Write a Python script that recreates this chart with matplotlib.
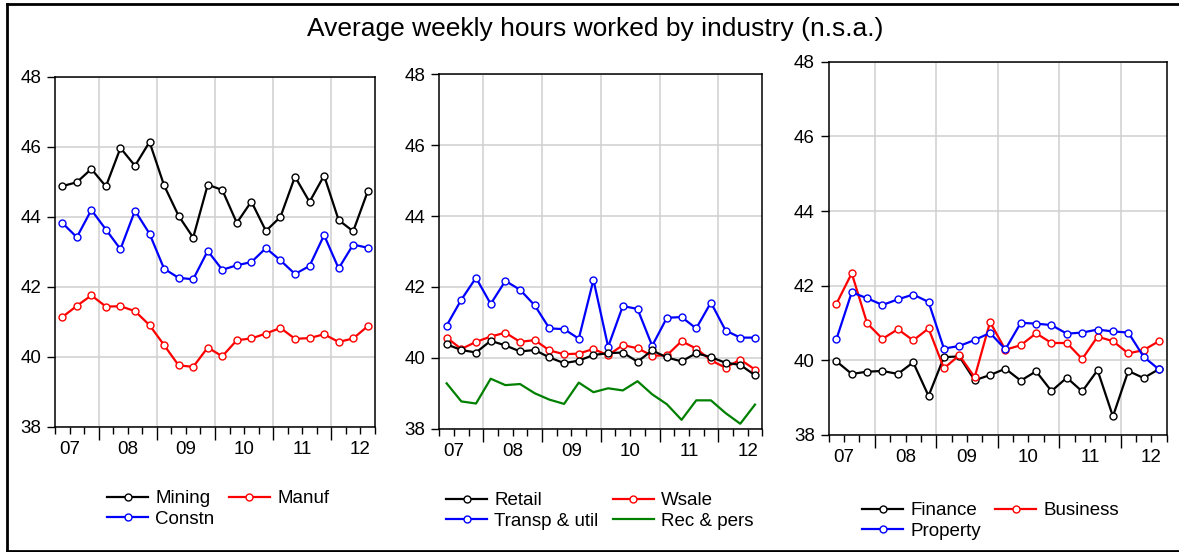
import matplotlib
matplotlib.use("Agg")
import matplotlib.pyplot as plt
import numpy as np
import pandas as pd
from matplotlib.ticker import FixedLocator, FuncFormatter, NullFormatter

plt.rcParams['font.family'] = ['Liberation Sans', 'DejaVu Sans']

# quarterly, 2007Q2 - 2012Q3
quarters = pd.period_range('2007Q2', '2012Q3', freq='Q')

mining = [44.87, 44.98, 45.36, 44.86, 45.96, 45.45, 46.13, 44.89, 44.02, 43.40, 44.91,
          44.76, 43.82, 44.43, 43.59, 43.99, 45.14, 44.42, 45.17, 43.90, 43.58, 44.72]
manuf = [41.13, 41.45, 41.75, 41.43, 41.44, 41.30, 40.90, 40.33, 39.75, 39.71, 40.26,
         40.01, 40.47, 40.52, 40.66, 40.82, 40.51, 40.53, 40.64, 40.42, 40.52, 40.87]
constn = [43.82, 43.41, 44.19, 43.63, 43.07, 44.17, 43.51, 42.51, 42.25, 42.21, 43.02,
          42.48, 42.61, 42.70, 43.10, 42.75, 42.36, 42.59, 43.47, 42.52, 43.20, 43.11]

retail = [40.38, 40.22, 40.15, 40.48, 40.35, 40.18, 40.22, 40.01, 39.85, 39.92, 40.08,
          40.13, 40.15, 39.89, 40.21, 40.01, 39.90, 40.13, 40.02, 39.86, 39.80, 39.51]
wsale = [40.57, 40.25, 40.45, 40.60, 40.71, 40.45, 40.50, 40.21, 40.10, 40.12, 40.25,
         40.07, 40.36, 40.27, 40.06, 40.07, 40.47, 40.26, 39.93, 39.72, 39.95, 39.67]
transp = [40.91, 41.64, 42.26, 41.52, 42.17, 41.92, 41.48, 40.83, 40.81, 40.54, 42.20,
          40.31, 41.46, 41.38, 40.34, 41.13, 41.15, 40.83, 41.56, 40.77, 40.57, 40.57]
recpers = [39.28, 38.77, 38.71, 39.41, 39.23, 39.26, 39.00, 38.82, 38.70, 39.30, 39.03,
           39.14, 39.08, 39.34, 38.97, 38.69, 38.25, 38.80, 38.80, 38.44, 38.14, 38.68]

finance = [39.97, 39.63, 39.69, 39.71, 39.63, 39.94, 39.04, 40.08, 40.10, 39.46, 39.60,
           39.77, 39.45, 39.70, 39.17, 39.53, 39.16, 39.73, 38.49, 39.71, 39.52, 39.76]
business = [41.51, 42.33, 40.99, 40.57, 40.83, 40.53, 40.85, 39.78, 40.13, 39.54, 41.02,
            40.28, 40.40, 40.72, 40.46, 40.46, 40.03, 40.63, 40.51, 40.18, 40.27, 40.51]
prop = [40.56, 41.82, 41.66, 41.48, 41.63, 41.76, 41.56, 40.31, 40.38, 40.54, 40.73,
        40.29, 41.00, 40.98, 40.94, 40.71, 40.74, 40.82, 40.77, 40.74, 40.09, 39.75]

years = [2007, 2008, 2009, 2010, 2011, 2012]
year_labels = ['07', '08', '09', '10', '11', '12']

# fractional year at the middle of each quarter
x = np.array([p.year + (p.quarter - 0.5) / 4 for p in quarters])

W, H = 1179, 552
fig = plt.figure(figsize=(W / 100, H / 100), dpi=100)

# outer frame (right edge falls outside the picture)
for (xa, ya) in [([7 / W, 7 / W], [0, 1 - 4 / H]), ([7 / W, 1], [1 - 4 / H, 1 - 4 / H]),
                 ([7 / W, 1], [1 - 551 / H, 1 - 551 / H])]:
    fig.add_artist(plt.Line2D(xa, ya, color='black', lw=2, transform=fig.transFigure))

fig.text(595.5 / W, 1 - 36 / H, "Average weekly hours worked by industry (n.s.a.)",
         ha='center', va='baseline', fontsize=19)


def year_fmt(v, pos):
    # label the middle of each year
    if abs(v % 1 - 0.5) < 1e-6:
        return year_labels[years.index(int(v))]
    return ''


def make_axes(x0, x1, ytop, ybot):
    ax = fig.add_axes([x0 / W, 1 - ybot / H, (x1 - x0) / W, (ybot - ytop) / H])
    ax.set_xlim(2007.25, 2012.75)
    ax.set_ylim(38, 48)
    ax.set_yticks([38, 40, 42, 44, 46, 48])
    ax.xaxis.set_major_locator(FixedLocator(years[1:]))
    ax.xaxis.set_major_formatter(NullFormatter())
    ax.xaxis.set_minor_locator(FixedLocator(np.arange(2007.25, 2012.76, 0.25)))
    ax.xaxis.set_minor_formatter(FuncFormatter(year_fmt))
    ax.tick_params(axis='x', which='major', length=9, width=1, direction='out')
    ax.tick_params(axis='x', which='minor', length=5, width=1, direction='out',
                   labelsize=13.5, pad=5)
    ax.tick_params(axis='y', length=6, width=1, direction='out', labelsize=13.5, pad=4)
    ax.grid(True, which='major', color='#d0d0d0', lw=1.1)
    ax.set_axisbelow(True)
    for s in ax.spines.values():
        s.set_linewidth(1.1)
    return ax


def series(ax, y, color, label, marker=True):
    if marker:
        line, = ax.plot(x, y, color=color, lw=1.6, marker='o', ms=5, mfc='white',
                        mec=color, mew=1.0, label=label)
    else:
        line, = ax.plot(x, y, color=color, lw=1.6, label=label)
    return line


def legend(ax, handles, hx, hy):
    # ncol=2 fills column by column
    ax.legend(handles, [h.get_label() for h in handles], loc='upper left',
              bbox_to_anchor=(hx / W, 1 - (hy - 10) / H),
              bbox_transform=fig.transFigure, ncol=2, frameon=False, fontsize=13.5,
              borderpad=0, borderaxespad=0, handlelength=2.2, handletextpad=0.38,
              columnspacing=0.75, labelspacing=0.2, numpoints=1)


ax1 = make_axes(55, 375, 76.5, 426.7)
l_min = series(ax1, mining, 'black', 'Mining')
l_con = series(ax1, constn, '#0000ff', 'Constn')
l_man = series(ax1, manuf, '#ff0000', 'Manuf')
legend(ax1, [l_min, l_con, l_man], 107, 500)

ax2 = make_axes(439.3, 762.3, 74.3, 428.7)
l_rec = series(ax2, recpers, '#008000', 'Rec & pers', marker=False)
l_tra = series(ax2, transp, '#0000ff', 'Transp & util')
l_ws = series(ax2, wsale, '#ff0000', 'Wsale')
l_ret = series(ax2, retail, 'black', 'Retail')
legend(ax2, [l_ret, l_tra, l_ws, l_rec], 446, 502)

ax3 = make_axes(828.7, 1166.7, 61.9, 434.7)
l_fin = series(ax3, finance, 'black', 'Finance')
l_bus = series(ax3, business, '#ff0000', 'Business')
l_pro = series(ax3, prop, '#0000ff', 'Property')
legend(ax3, [l_fin, l_pro, l_bus], 862, 512)

fig.savefig('out.png', dpi=100)
